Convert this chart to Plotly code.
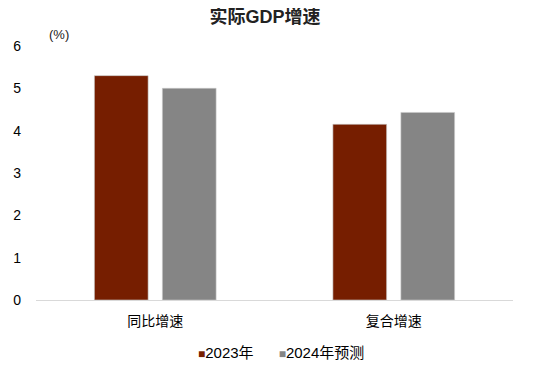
import plotly.graph_objects as go

categories = ["同比增速", "复合增速"]
series_names = ["2023年", "2024年预测"]
values_2023 = [5.3, 4.15]
values_2024 = [5.0, 4.43]
colors = ["#761E00", "#858585"]
y_ticks = [0, 1, 2, 3, 4, 5, 6]

FONT = "Liberation Sans, Arial, Noto Sans CJK SC, sans-serif"
OFF = 8  # default page body margin

W, H = 550 - OFF, 366 - OFF

fig = go.Figure()
for name, vals, col in zip(series_names, [values_2023, values_2024], colors):
    fig.add_trace(go.Bar(
        x=categories, y=vals, name=name,
        marker=dict(color=col, line=dict(color="rgba(200,200,200,0.6)", width=1)),
    ))

fig.update_layout(
    width=W, height=H,
    margin=dict(l=36 - OFF, r=37, t=46 - OFF, b=66),
    paper_bgcolor="white", plot_bgcolor="white",
    font=dict(family=FONT, size=14, color="#000000"),
    title=dict(text="<b>实际GDP增速</b>", x=(265 - OFF) / W, xanchor="center",
               yref="container", y=1 - (17 - OFF) / H, yanchor="middle",
               font=dict(size=18, color="#222222", family="Liberation Sans, Noto Sans CJK SC, sans-serif")),
    barmode="group", bargap=0.43, bargroupgap=0.21,
    showlegend=False,
    xaxis=dict(showline=True, linecolor="#d9d9d9", linewidth=1, showgrid=False,
               ticks="", tickfont=dict(size=14), automargin=False, ticklabelstandoff=8),
    yaxis=dict(range=[0, 6], tickvals=y_ticks, showgrid=False, zeroline=False,
               showline=False, ticks="", ticklabelstandoff=14, tickfont=dict(size=14),
               automargin=False),
)
fig.add_annotation(text="(%)", xref="paper", yref="paper", x=0.024, y=1 + 12 / 254,
                   xanchor="left", yanchor="middle", showarrow=False,
                   font=dict(size=13, color="#222222"))

legend_text = "&nbsp;&nbsp;&nbsp;&nbsp;&nbsp;&nbsp;".join(
    f"<span style='color:{c};font-size:12px'>■</span>{n}" for n, c in zip(series_names, colors)
)
fig.add_annotation(text=legend_text, xref="paper", yref="paper",
                   x=(280.5 - 36) / 477, y=-(352 - 300) / 254,
                   xanchor="center", yanchor="middle", showarrow=False,
                   font=dict(size=15, color="#000000"))

fig.write_html("out.html")
